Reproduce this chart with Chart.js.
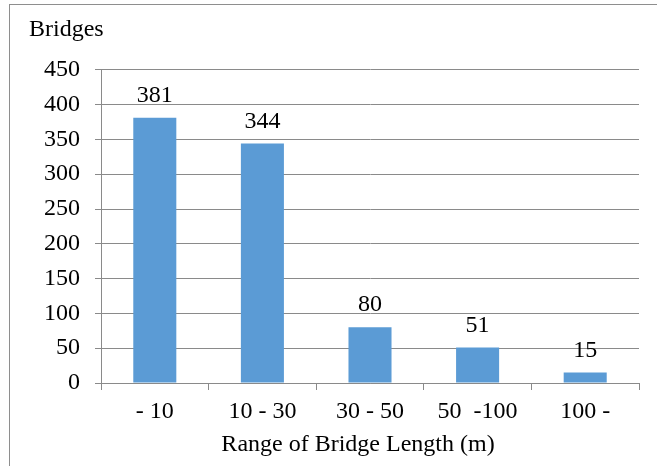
<!DOCTYPE html>
<html>
<head>
<meta charset="utf-8">
<script src="https://cdn.jsdelivr.net/npm/chart.js@4"></script>
<style>
  html, body { margin: 0; padding: 0; background: #fff; }
  #wrap { position: relative; width: 657px; height: 466px; }
  #frame { position: absolute; left: 9px; top: 4px; width: 700px; height: 500px;
           border-left: 1px solid #8e8e8e; border-top: 1px solid #8e8e8e; pointer-events: none; }
</style>
</head>
<body>
<div id="wrap">
  <canvas id="chart" width="657" height="466"></canvas>
  <div id="frame"></div>
</div>
<script>
const categories = ["- 10", "10 - 30", "30 - 50", "50  -100", "100 -"];
const bridges = [381, 344, 80, 51, 15];
const yTicks = [0, 50, 100, 150, 200, 250, 300, 350, 400, 450];

const serif = "Liberation Serif";
const gridGray = "#8a8a8a";

Chart.defaults.font.family = serif;
Chart.defaults.font.size = 24;
Chart.defaults.color = "#000";

// labels over each bar
const barLabels = {
  id: "barLabels",
  afterDatasetsDraw(chart) {
    const ctx = chart.ctx;
    const meta = chart.getDatasetMeta(0);
    ctx.save();
    ctx.font = "24px 'Liberation Serif'";
    ctx.fillStyle = "#000";
    ctx.textAlign = "center";
    ctx.textBaseline = "alphabetic";
    meta.data.forEach((bar, i) => {
      ctx.fillText(String(bridges[i]), bar.x, bar.y - 16);
    });
    ctx.restore();
  },
};

const chart = new Chart(document.getElementById("chart"), {
  type: "bar",
  data: {
    labels: categories,
    datasets: [
      {
        label: "Bridges",
        data: bridges,
        backgroundColor: "#5b9bd5",
        barPercentage: 0.4,
        categoryPercentage: 1,
      },
    ],
  },
  options: {
    responsive: false,
    animation: false,
    layout: {
      padding: { left: 29, right: 18, top: 0, bottom: 0 },
    },
    plugins: {
      legend: { display: false },
      tooltip: { enabled: false },
      title: {
        display: true,
        text: "Bridges",
        align: "start",
        color: "#000",
        font: { family: serif, size: 24, weight: "normal", lineHeight: 1.2 },
        padding: { top: 15, bottom: 26 },
      },
    },
    scales: {
      x: {
        grid: {
          drawOnChartArea: false,
          drawTicks: true,
          tickLength: 7,
          color: gridGray,
          offset: true,
        },
        border: { color: gridGray, width: 1 },
        ticks: {
          color: "#000",
          padding: 7,
          maxRotation: 0,
          font: { family: serif, size: 24, lineHeight: 1.2 },
        },
        title: {
          display: true,
          // trailing spaces nudge the centred title a little left, as in the original
          text: "Range of Bridge Length (m)    ",
          color: "#000",
          font: { family: serif, size: 24, lineHeight: 1.2 },
          padding: { top: 0, bottom: 7 },
        },
        afterFit(scale) {
          scale.height = 83;
        },
      },
      y: {
        min: 0,
        max: 450,
        afterBuildTicks(scale) {
          scale.ticks = yTicks.map((v) => ({ value: v }));
        },
        grid: {
          color: gridGray,
          tickLength: 6,
          drawTicks: true,
        },
        border: { color: gridGray, width: 1 },
        ticks: {
          color: "#000",
          padding: 15,
          font: { family: serif, size: 24, lineHeight: 1.2 },
        },
        afterFit(scale) {
          scale.width = 72;
        },
      },
    },
  },
  plugins: [barLabels],
});
</script>
</body>
</html>
